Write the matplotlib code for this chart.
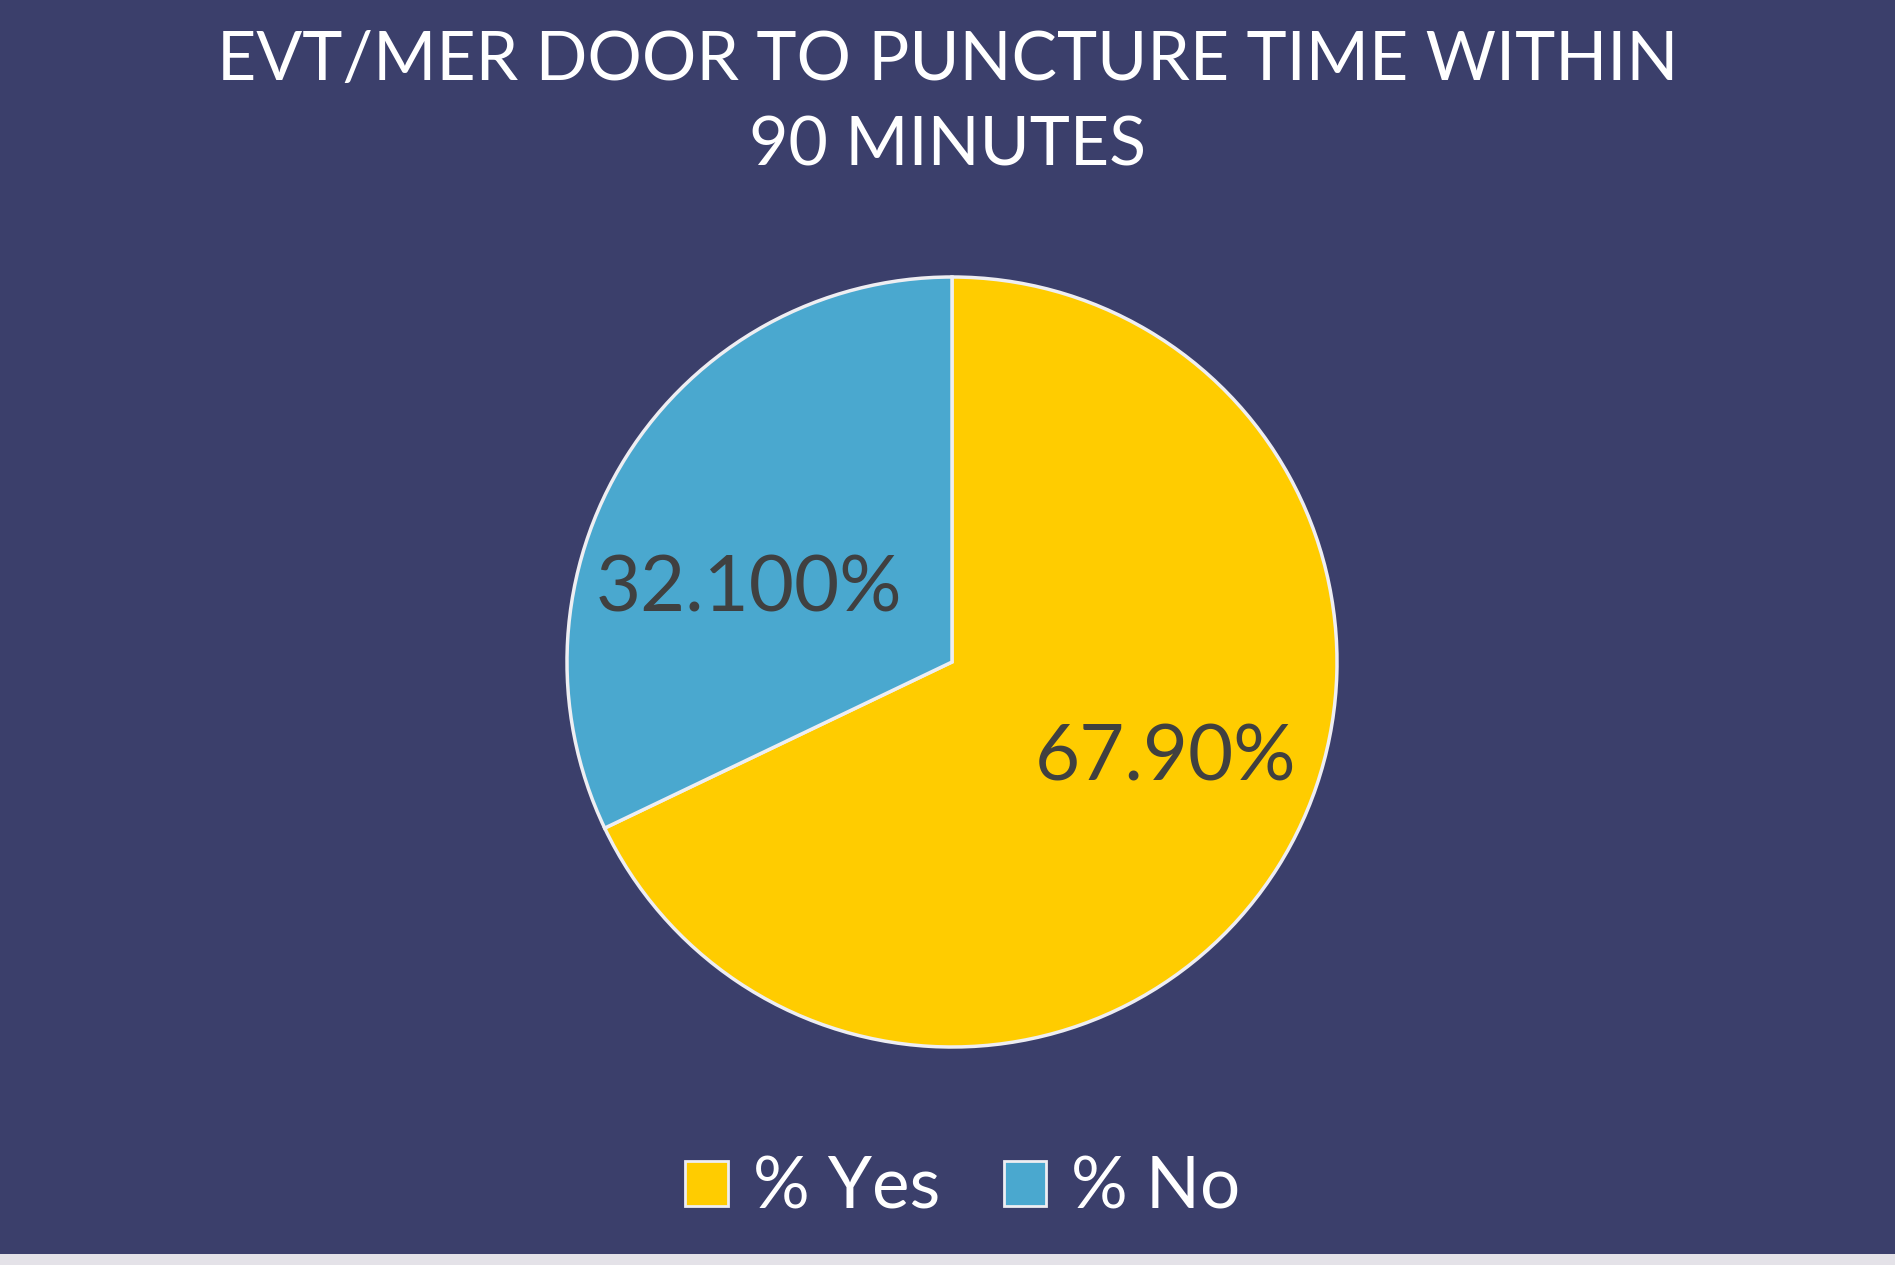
import matplotlib
matplotlib.use("Agg")
import matplotlib.pyplot as plt
from matplotlib.patches import Rectangle, Patch
import numpy as np

categories = ["% Yes", "% No"]
values = [67.9, 32.1]
value_labels = ["67.90%", "32.100%"]
colors = ["#FFCC00", "#4AA8CF"]
title = "EVT/MER DOOR TO PUNCTURE TIME WITHIN\n90 MINUTES"

BG = "#3B3F6B"
W, H = 1895, 1265
fig = plt.figure(figsize=(W / 100, H / 100), dpi=100, facecolor=BG)
plt.rcParams['font.family'] = ['Lato', 'DejaVu Sans']

cx, cy, r = 952, H - 662, 385
ax = fig.add_axes([(cx - r) / W, (cy - r) / H, 2 * r / W, 2 * r / H])
ax.set_facecolor(BG)
wedges, _ = ax.pie(values, colors=colors, startangle=90, counterclock=False,
                   wedgeprops=dict(edgecolor="#EEEEF2", linewidth=2.5))
ax.set_xlim(-1, 1)
ax.set_ylim(-1, 1)
ax.set_aspect('equal')
ax.axis('off')

# label placement (Excel-like, angle offset from slice centre)
label_pos = [(-24.5, 0.61), (160.5, 0.56)]
for txt, (ang, d) in zip(value_labels, label_pos):
    a = np.deg2rad(ang)
    ax.text(d * np.cos(a), d * np.sin(a), txt, ha='center', va='center',
            fontsize=56, color="#404040")

fig.text(0.5, 1 - 61 / H, title.split("\n")[0], ha='center', va='center',
         fontsize=49, color='white')
fig.text(0.5, 1 - 146 / H, title.split("\n")[1], ha='center', va='center',
         fontsize=49, color='white')

handles = [Patch(facecolor=c, edgecolor="#EEEEF2", linewidth=2) for c in colors]
leg = fig.legend(handles, categories, loc='center', bbox_to_anchor=(0.508, 1 - 1188 / H),
                 ncol=2, frameon=False, fontsize=51, labelcolor='white',
                 handlelength=0.6, handleheight=0.6, handletextpad=0.35,
                 columnspacing=0.9)

fig.add_artist(Rectangle((0, 0), 1, 11 / H, transform=fig.transFigure,
                         facecolor="#E4E2E8", edgecolor='none'))

fig.savefig("out.png", dpi=100, facecolor=BG)
